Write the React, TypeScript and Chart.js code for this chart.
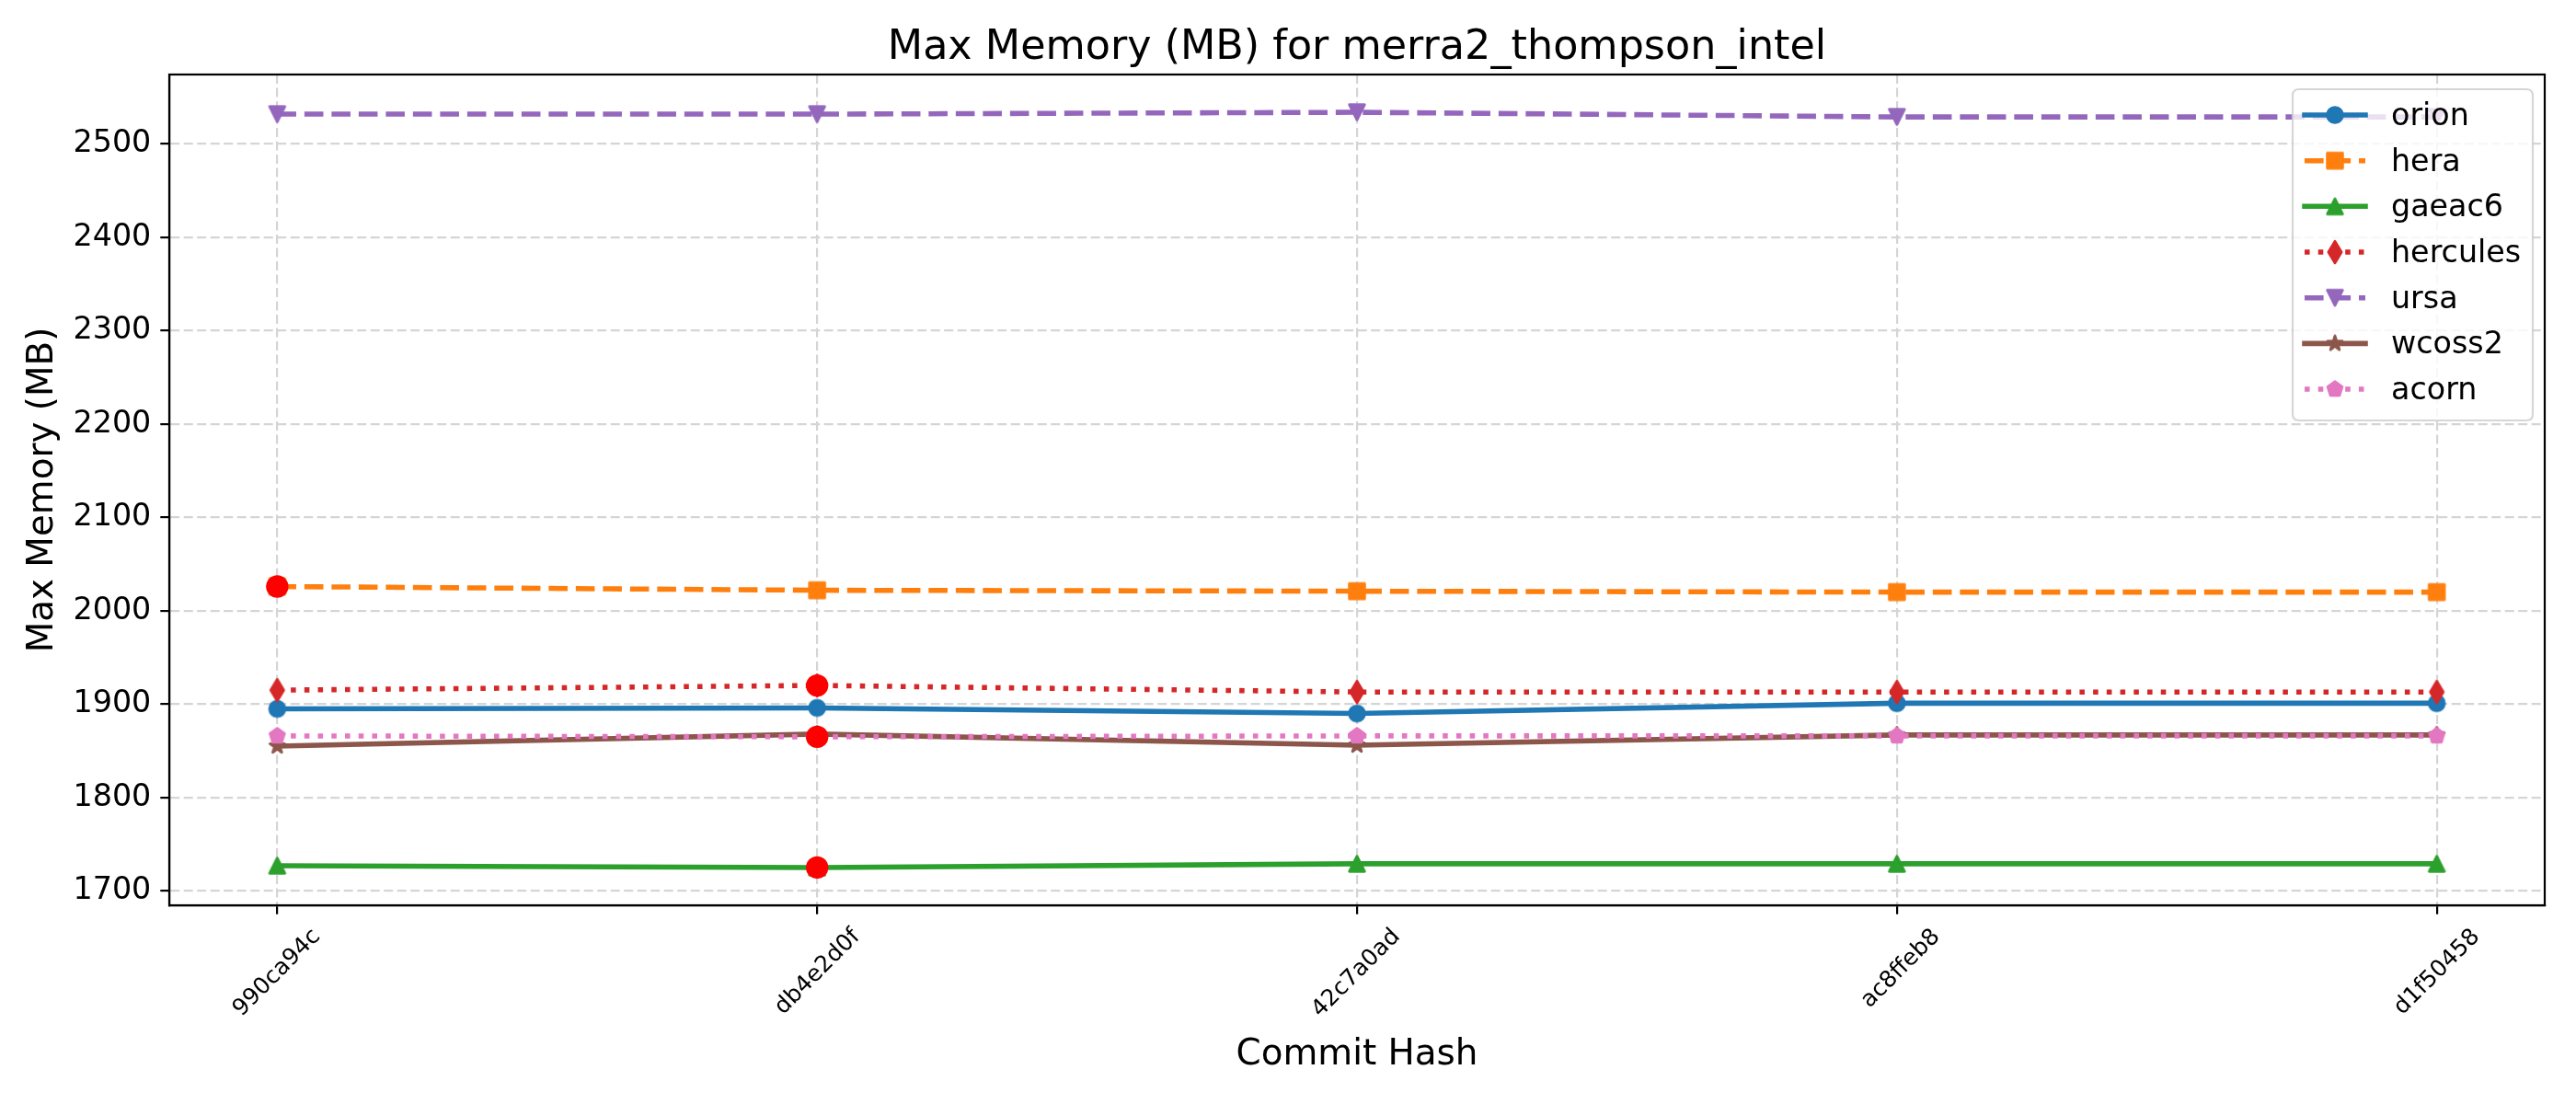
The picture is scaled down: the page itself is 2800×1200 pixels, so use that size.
import React, { useEffect, useRef } from "react";
import { Chart, registerables } from "chart.js";

Chart.register(...registerables);

// ---- data ----
const categories = ["990ca94c", "db4e2d0f", "42c7a0ad", "ac8ffeb8", "d1f50458"];
const orion = [1895, 1896, 1890, 1901, 1901];
const hera = [2026, 2022, 2021, 2020, 2020];
const gaeac6 = [1727, 1725, 1729, 1729, 1729];
const hercules = [1915, 1920, 1913, 1913, 1913];
const ursa = [2532, 2532, 2534, 2529, 2529];
const wcoss2 = [1855, 1868, 1856, 1867, 1867];
const acorn = [1866, 1865, 1866, 1866, 1866];
const yTicks = [1700, 1800, 1900, 2000, 2100, 2200, 2300, 2400, 2500];
const highlightSeries = ["hera", "hercules", "acorn", "gaeac6"];
const highlightIndex = [0, 1, 1, 1];

const seriesNames = ["orion", "hera", "gaeac6", "hercules", "ursa", "wcoss2", "acorn"];
const seriesValues = [orion, hera, gaeac6, hercules, ursa, wcoss2, acorn];
const seriesColors = ["#1f77b4", "#ff7f0e", "#2ca02c", "#d62728", "#9467bd", "#8c564b", "#e377c2"];
const seriesStyles = ["solid", "dashed", "solid", "dotted", "dashed", "solid", "dotted"];
const seriesMarkers = ["circle", "square", "triUp", "thinDiamond", "triDown", "star", "pentagon"];

const TITLE = "Max Memory (MB) for merra2_thompson_intel";
const FONT = "DejaVu Sans";
const LW = 5.56;
const dashFor = (s: string) =>
  s === "dashed" ? [20.6, 8.9] : s === "dotted" ? [5.56, 9.17] : [];

function makeMarker(shape: string, color: string): HTMLCanvasElement {
  const ms = 16.7;
  const h = ms / 2;
  const size = 32;
  const c = document.createElement("canvas");
  c.width = size;
  c.height = size;
  const ctx = c.getContext("2d")!;
  const cx = size / 2;
  const cy = size / 2;
  ctx.fillStyle = color;
  ctx.strokeStyle = color;
  ctx.lineWidth = 2.78;
  ctx.lineJoin = "round";
  ctx.beginPath();
  if (shape === "circle") {
    ctx.arc(cx, cy, h, 0, Math.PI * 2);
  } else if (shape === "square") {
    ctx.rect(cx - h, cy - h, ms, ms);
  } else if (shape === "triUp") {
    ctx.moveTo(cx, cy - h);
    ctx.lineTo(cx + h, cy + h);
    ctx.lineTo(cx - h, cy + h);
    ctx.closePath();
  } else if (shape === "triDown") {
    ctx.moveTo(cx, cy + h);
    ctx.lineTo(cx + h, cy - h);
    ctx.lineTo(cx - h, cy - h);
    ctx.closePath();
  } else if (shape === "thinDiamond") {
    const d = ms * 0.7071;
    ctx.moveTo(cx, cy - d);
    ctx.lineTo(cx + d * 0.6, cy);
    ctx.lineTo(cx, cy + d);
    ctx.lineTo(cx - d * 0.6, cy);
    ctx.closePath();
  } else if (shape === "star") {
    const inner = h * 0.381966;
    for (let i = 0; i < 10; i++) {
      const r = i % 2 === 0 ? h : inner;
      const a = -Math.PI / 2 + (i * Math.PI) / 5;
      const x = cx + r * Math.cos(a);
      const y = cy + r * Math.sin(a);
      if (i === 0) ctx.moveTo(x, y);
      else ctx.lineTo(x, y);
    }
    ctx.closePath();
  } else if (shape === "pentagon") {
    for (let i = 0; i < 5; i++) {
      const a = -Math.PI / 2 + (i * 2 * Math.PI) / 5;
      const x = cx + h * Math.cos(a);
      const y = cy + h * Math.sin(a);
      if (i === 0) ctx.moveTo(x, y);
      else ctx.lineTo(x, y);
    }
    ctx.closePath();
  }
  ctx.fill();
  ctx.stroke();
  return c;
}

export default function App() {
  const ref = useRef<HTMLCanvasElement>(null);

  useEffect(() => {
    const canvas = ref.current!;
    const markers = seriesMarkers.map((m, i) => makeMarker(m, seriesColors[i]));

    const all = seriesValues.flat();
    const dMin = Math.min(...all);
    const dMax = Math.max(...all);
    const pad = (dMax - dMin) * 0.05;
    const xPad = (categories.length - 1) * 0.05;

    const datasets: any[] = seriesNames.map((name, i) => ({
      label: name,
      data: seriesValues[i].map((v, j) => ({ x: j, y: v })),
      borderColor: seriesColors[i],
      backgroundColor: seriesColors[i],
      borderWidth: LW,
      borderDash: dashFor(seriesStyles[i]),
      borderJoinStyle: "round",
      borderCapStyle: seriesStyles[i] === "solid" ? "round" : "butt",
      pointStyle: markers[i],
      pointRadius: 10,
      pointBorderWidth: 0,
      fill: false,
      tension: 0,
      order: 10 - i,
    }));

    datasets.push({
      label: "_highlight",
      data: highlightSeries.map((s, k) => {
        const idx = seriesNames.indexOf(s);
        return { x: highlightIndex[k], y: seriesValues[idx][highlightIndex[k]] };
      }),
      showLine: false,
      pointStyle: "circle",
      pointRadius: 12.2,
      pointBorderWidth: 0,
      backgroundColor: "#ff0000",
      borderColor: "#ff0000",
      order: 0,
    });

    const bgPlugin = {
      id: "bg",
      beforeDraw(chart: any) {
        const ctx = chart.ctx;
        ctx.save();
        ctx.fillStyle = "#ffffff";
        ctx.fillRect(0, 0, chart.width, chart.height);
        ctx.restore();
      },
    };

    const framePlugin = {
      id: "frameLegend",
      afterDraw(chart: any) {
        const ctx = chart.ctx as CanvasRenderingContext2D;
        const a = chart.chartArea;
        ctx.save();
        ctx.strokeStyle = "#000";
        ctx.lineWidth = 2.2;
        ctx.setLineDash([]);
        ctx.strokeRect(a.left, a.top, a.right - a.left, a.bottom - a.top);

        // title
        ctx.fillStyle = "#000";
        ctx.font = `44.44px "${FONT}"`;
        ctx.textAlign = "center";
        ctx.textBaseline = "alphabetic";
        ctx.fillText(TITLE, (a.left + a.right) / 2, a.top - 16.7);

        // legend
        const bw = 261;
        const bh = 360;
        const bx = a.right - 13 - bw;
        const by = a.top + 16;
        const r = 7;
        ctx.beginPath();
        ctx.moveTo(bx + r, by);
        ctx.lineTo(bx + bw - r, by);
        ctx.quadraticCurveTo(bx + bw, by, bx + bw, by + r);
        ctx.lineTo(bx + bw, by + bh - r);
        ctx.quadraticCurveTo(bx + bw, by + bh, bx + bw - r, by + bh);
        ctx.lineTo(bx + r, by + bh);
        ctx.quadraticCurveTo(bx, by + bh, bx, by + bh - r);
        ctx.lineTo(bx, by + r);
        ctx.quadraticCurveTo(bx, by, bx + r, by);
        ctx.closePath();
        ctx.fillStyle = "rgba(255,255,255,0.8)";
        ctx.fill();
        ctx.strokeStyle = "rgba(204,204,204,0.8)";
        ctx.lineWidth = 2.2;
        ctx.stroke();

        const hx0 = bx + 13;
        const hx1 = bx + 79;
        const tx = bx + 107;
        ctx.font = `33.33px "${FONT}"`;
        ctx.textBaseline = "alphabetic";
        ctx.textAlign = "left";
        seriesNames.forEach((name, i) => {
          const y = by + 28 + i * 49.67;
          ctx.beginPath();
          ctx.setLineDash(dashFor(seriesStyles[i]));
          ctx.lineDashOffset = 0;
          ctx.lineCap = seriesStyles[i] === "solid" ? "square" : "butt";
          ctx.strokeStyle = seriesColors[i];
          ctx.lineWidth = LW;
          ctx.moveTo(hx0, y);
          ctx.lineTo(hx1, y);
          ctx.stroke();
          ctx.setLineDash([]);
          const m = markers[i];
          ctx.drawImage(m, (hx0 + hx1) / 2 - m.width / 2, y - m.height / 2);
          ctx.fillStyle = "#000";
          ctx.fillText(name, tx, y + 11);
        });
        ctx.restore();
      },
    };

    const chart = new Chart(canvas, {
      type: "line",
      data: { datasets },
      plugins: [bgPlugin, framePlugin],
      options: {
        responsive: false,
        animation: false,
        devicePixelRatio: 1,
        events: [],
        layout: { padding: { left: 0, right: 34, top: 81, bottom: 0 } },
        plugins: {
          legend: { display: false },
          tooltip: { enabled: false },
          title: { display: false },
        },
        scales: {
          x: {
            type: "linear",
            min: -xPad,
            max: categories.length - 1 + xPad,
            afterBuildTicks: (scale: any) => {
              scale.ticks = categories.map((_, i) => ({ value: i }));
            },
            afterFit: (scale: any) => {
              scale.height = 216;
            },
            ticks: {
              autoSkip: false,
              maxRotation: 45,
              minRotation: 45,
              color: "#000",
              padding: 10,
              labelOffset: 43,
              font: { family: FONT, size: 25 },
              callback: (v: any) => categories[v] ?? "",
            },
            grid: {
              color: "#d5d5d5",
              lineWidth: 2.2,
              drawTicks: true,
              tickLength: 9.7,
              tickColor: "#000",
              tickWidth: 2.2,
              tickBorderDash: [],
            },
            border: { display: true, color: "#000", width: 2.2, dash: [10, 4.5] },
            title: {
              display: true,
              text: "Commit Hash",
              color: "#000",
              font: { family: FONT, size: 38.89, lineHeight: 1.2 },
              padding: { top: 0, bottom: 29.6 },
            },
          },
          y: {
            type: "linear",
            min: dMin - pad,
            max: dMax + pad,
            afterBuildTicks: (scale: any) => {
              scale.ticks = yTicks.map((v) => ({ value: v }));
            },
            afterFit: (scale: any) => {
              scale.width = 184;
            },
            ticks: {
              color: "#000",
              padding: 10,
              font: { family: FONT, size: 33.33 },
              callback: (v: any) => String(v),
            },
            grid: {
              color: "#d5d5d5",
              lineWidth: 2.2,
              drawTicks: true,
              tickLength: 9.7,
              tickColor: "#000",
              tickWidth: 2.2,
              tickBorderDash: [],
            },
            border: { display: true, color: "#000", width: 2.2, dash: [10, 4.5] },
            title: {
              display: true,
              text: "Max Memory (MB)",
              color: "#000",
              font: { family: FONT, size: 38.89, lineHeight: 1.2 },
              padding: { top: 23.6, bottom: 0 },
            },
          },
        },
      } as any,
    });

    return () => chart.destroy();
  }, []);

  return (
    <div style={{ position: "fixed", left: 0, top: 0, width: 2800, height: 1200, background: "#fff" }}>
      <canvas ref={ref} width={2800} height={1200} style={{ display: "block", width: 2800, height: 1200 }} />
    </div>
  );
}
